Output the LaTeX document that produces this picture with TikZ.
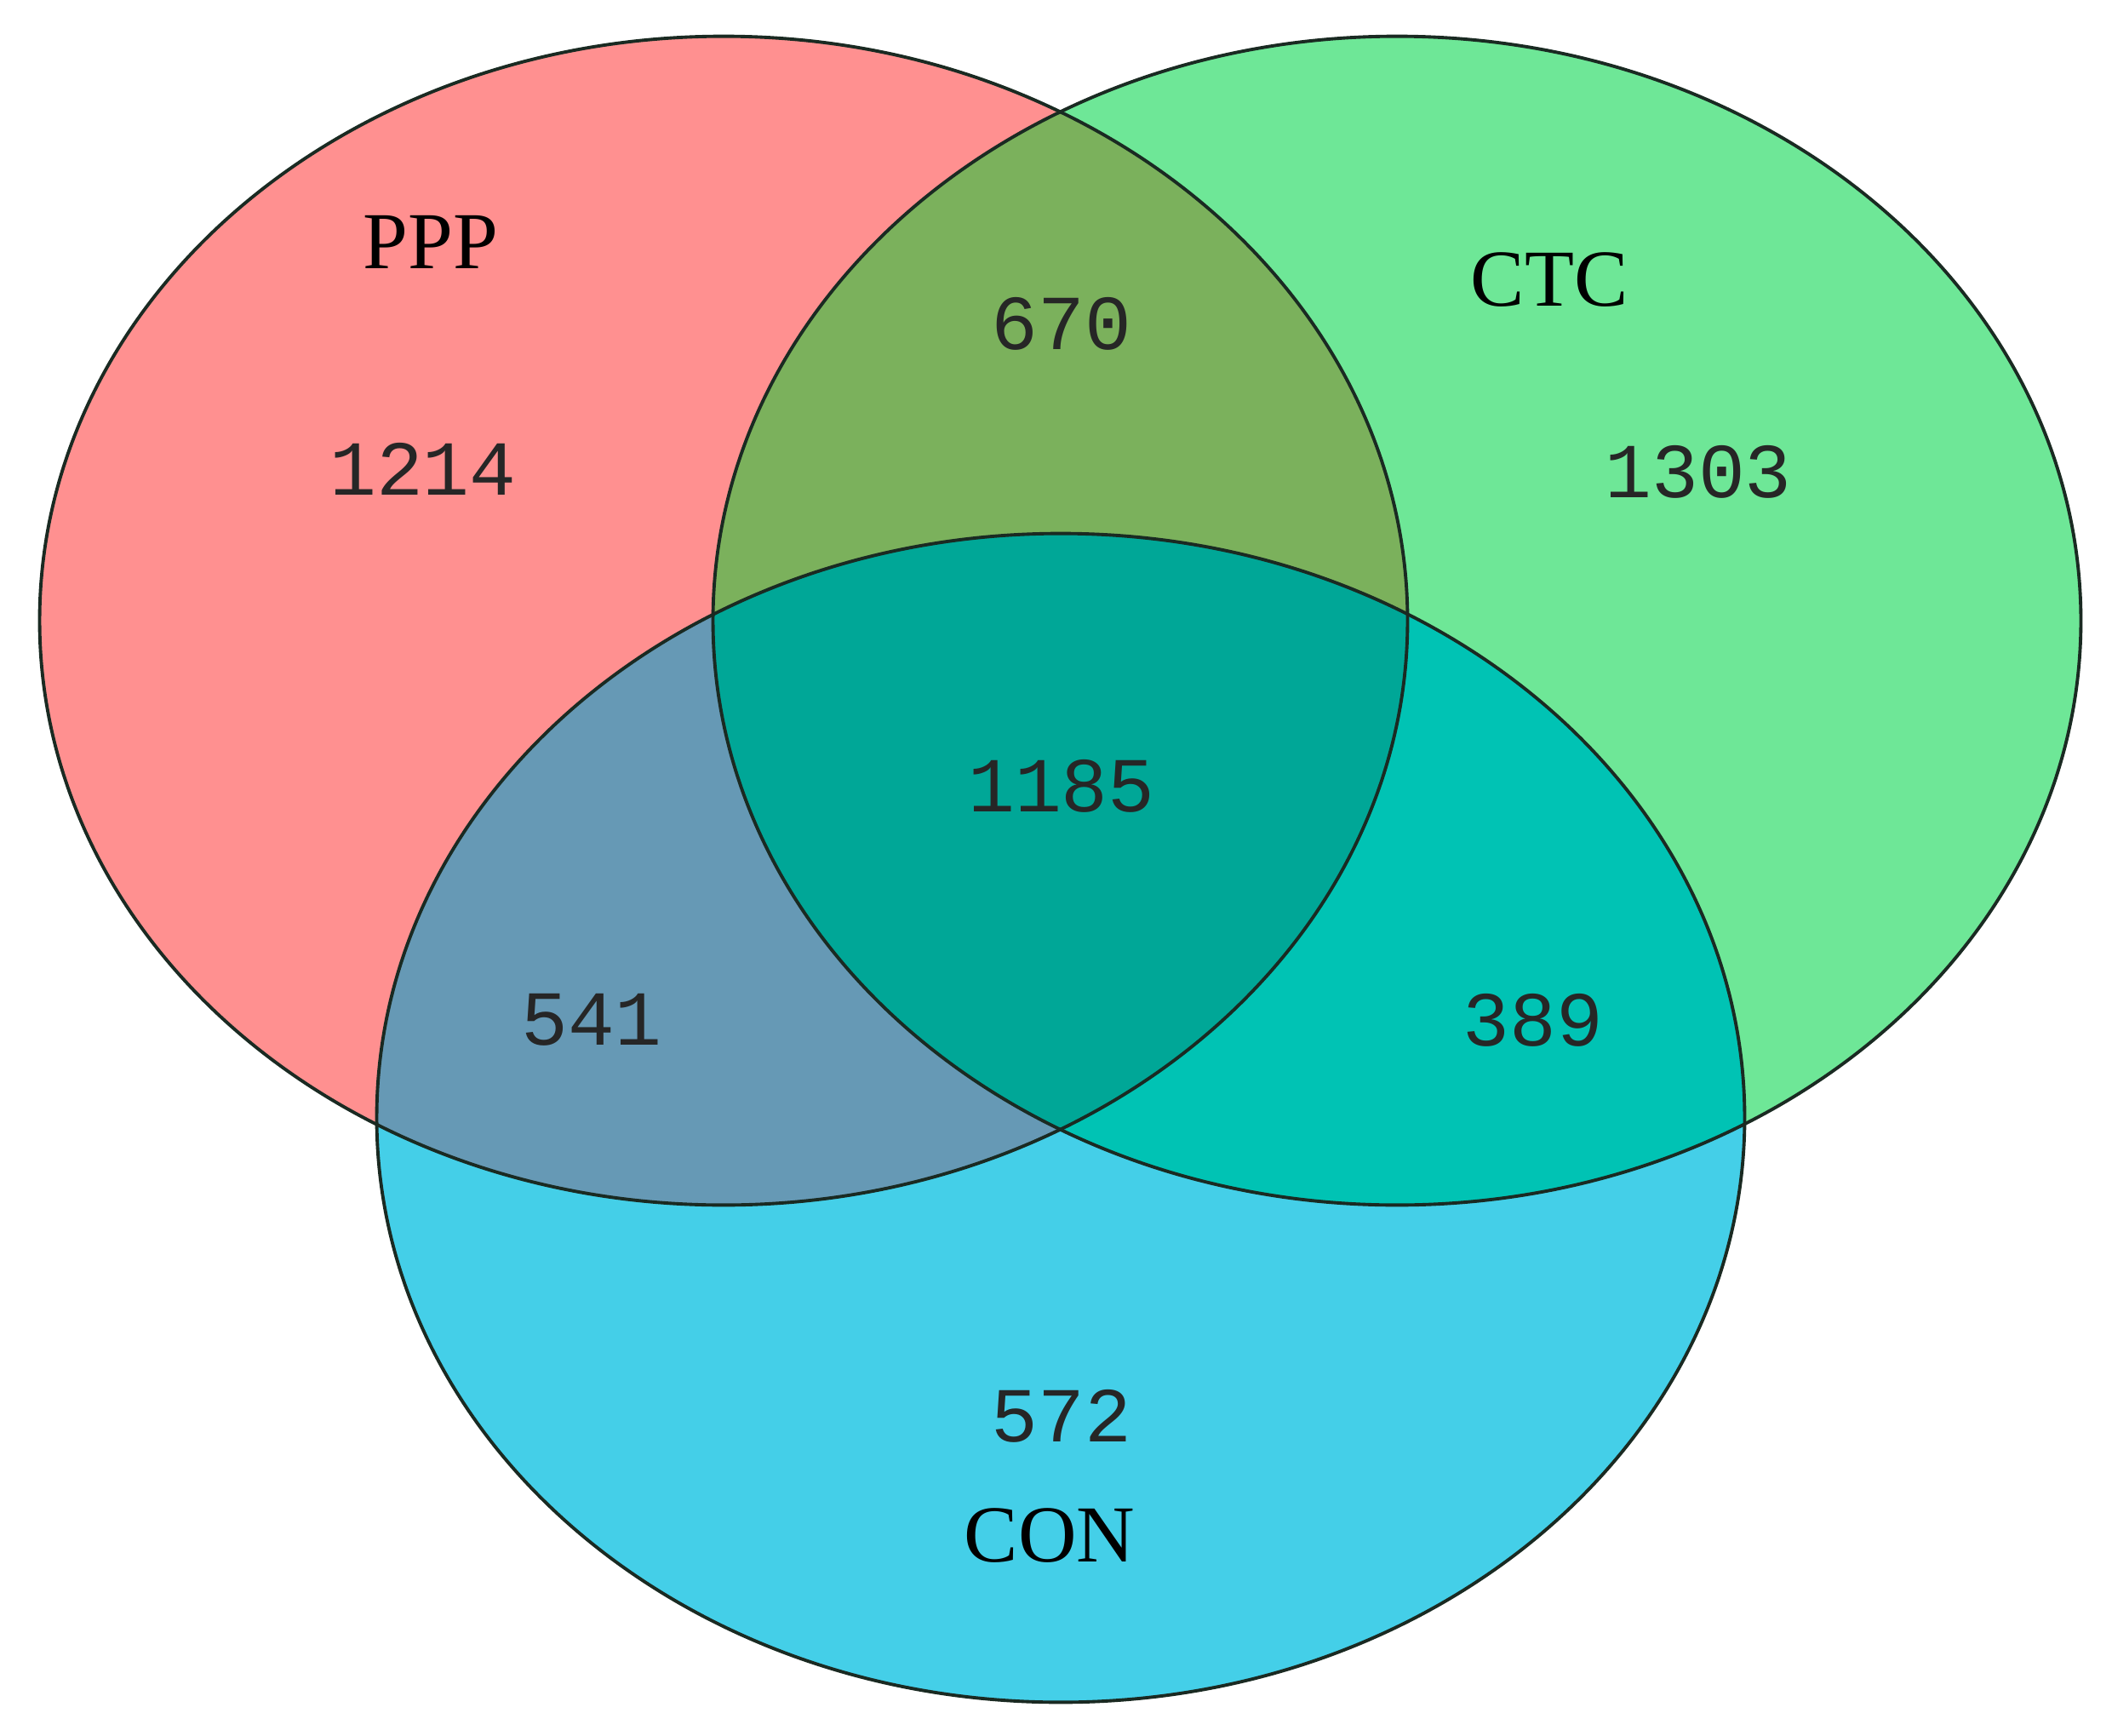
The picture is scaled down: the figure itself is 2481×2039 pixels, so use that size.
\documentclass[tikz,border=0pt]{standalone}
\usepackage{fontspec}
\setmainfont{Liberation Serif}
\newfontfamily\numfont{Liberation Mono}
\definecolor{cR}{HTML}{FF9090}
\definecolor{cG}{HTML}{6EE797}
\definecolor{cB}{HTML}{44CFE8}
\definecolor{cRG}{HTML}{7BB15C}
\definecolor{cRB}{HTML}{6699B5}
\definecolor{cGB}{HTML}{00C3B4}
\definecolor{cRGB}{HTML}{00A797}
\definecolor{edge}{HTML}{1A2A22}
\tikzset{
  setlabel/.style={font=\fontsize{27}{32}\selectfont, text=black, inner sep=0pt},
  countlabel/.style={font=\numfont\fontsize{26}{30}\selectfont, text=black!85, inner sep=0pt},
  rim/.style={draw=edge, line width=1.1pt}
}
\begin{document}
\begin{tikzpicture}[x=0.01cm, y=-0.01cm]
\useasboundingbox (0,0) rectangle (2481,2039);
\coordinate (cP) at (850,729);
\coordinate (cC) at (1641,729);
\coordinate (cN) at (1246,1313);
\def\rx{8.03cm}
\def\ry{6.86cm}
% single regions
\fill[cR] (cP) ellipse [x radius=\rx, y radius=\ry];
\fill[cG] (cC) ellipse [x radius=\rx, y radius=\ry];
\fill[cB] (cN) ellipse [x radius=\rx, y radius=\ry];
% pairwise
\begin{scope}
  \clip (cP) ellipse [x radius=\rx, y radius=\ry];
  \fill[cRG] (cC) ellipse [x radius=\rx, y radius=\ry];
  \fill[cRB] (cN) ellipse [x radius=\rx, y radius=\ry];
\end{scope}
\begin{scope}
  \clip (cC) ellipse [x radius=\rx, y radius=\ry];
  \fill[cGB] (cN) ellipse [x radius=\rx, y radius=\ry];
\end{scope}
\begin{scope}
  \clip (cP) ellipse [x radius=\rx, y radius=\ry];
  \clip (cC) ellipse [x radius=\rx, y radius=\ry];
  \fill[cRGB] (cN) ellipse [x radius=\rx, y radius=\ry];
\end{scope}
% outlines
\draw[rim] (cP) ellipse [x radius=\rx, y radius=\ry];
\draw[rim] (cC) ellipse [x radius=\rx, y radius=\ry];
\draw[rim] (cN) ellipse [x radius=\rx, y radius=\ry];
% set labels
\node[setlabel] (lP) at (506,284) {PPP};
\node[setlabel] (lC) at (1820,329) {CTC};
\node[setlabel] (lN) at (1233,1804) {CON};
% counts
\node[countlabel] (n1) at (497,551) {1214};
\node[countlabel] (n2) at (1247,380) {670};
\node[countlabel] (n3) at (1995,554) {1303};
\node[countlabel] (n4) at (1247,923) {1185};
\node[countlabel] (n5) at (695,1198) {541};
\node[countlabel] (n6) at (1801,1198) {389};
\node[countlabel] (n7) at (1247,1663) {572};
\end{tikzpicture}
\end{document}
